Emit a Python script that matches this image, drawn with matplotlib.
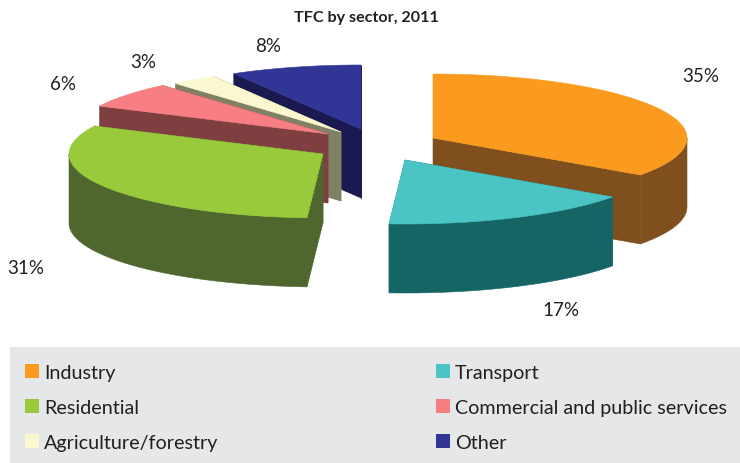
import numpy as np
import matplotlib
matplotlib.use('Agg')
import matplotlib.pyplot as plt

from matplotlib.patches import Polygon, Rectangle

plt.rcParams['font.family'] = ['Lato', 'DejaVu Sans']

# shares as measured from the slice angles, the printed labels are kept apart
sectors = ['Industry', 'Transport', 'Residential', 'Commercial and public services', 'Agriculture/forestry', 'Other']
shares = [34.8, 16.2, 31.2, 6.5, 2.95, 8.35]
pct_labels = ['35%', '17%', '31%', '6%', '3%', '8%']

top_colors = ['#FA9A1E', '#4AC4C4', '#99CA3C', '#F77E82', '#FBF8D0', '#313696']
side_colors = ['#7F4F1E', '#156565', '#4F672E', '#7F3F40', '#808065', '#1B1A50']

# apex of each exploded slice, in pixels
apex_x = [433, 405, 323, 328, 341, 361]
apex_y = [139, 161, 155, 135, 133, 130]
label_x = [701, 561, 26, 63, 143, 268]
label_y = [77, 311, 269, 85, 62, 46]
legend_x = [25, 436, 25, 436, 25, 436]
legend_y = [372, 372, 407, 407, 442, 442]

RX, RY, DEPTH = 254, 64, 69


def arc(cx, cy, a0, a1):
    # angles run clockwise from 12 o'clock
    t = np.radians(np.linspace(a0, a1, max(int(abs(a1 - a0)) * 2, 2)))
    return np.column_stack([cx + RX * np.sin(t), cy - RY * np.cos(t)])


def draw_slice(axes, cx, cy, a0, a1, top, side):
    down = np.array([0, DEPTH])
    apex = np.array([[cx, cy]])
    rim = arc(cx, cy, a0, a1)

    # both cut faces, the one facing away ends up behind the top anyway
    for edge in (rim[0], rim[-1]):
        face = np.array([apex[0], edge, edge + down, apex[0] + down])
        axes.add_patch(Polygon(face, facecolor=side, edgecolor=side, lw=0.4))

    # outer wall, only the front half of the ellipse shows
    lo, hi = max(a0, 90), min(a1, 270)
    if hi > lo:
        wall = arc(cx, cy, lo, hi)
        axes.add_patch(Polygon(np.vstack([wall, wall[::-1] + down]), facecolor=side, edgecolor=side, lw=0.4))

    axes.add_patch(Polygon(np.vstack([apex, rim]), facecolor=top, edgecolor=top, lw=0.4))


def main():
    figure = plt.figure(figsize=(7.4, 4.64), dpi=100)
    axes = figure.add_axes([0, 0, 1, 1])
    axes.set_xlim(0, 740)
    axes.set_ylim(464, 0)
    axes.axis('off')

    edges = np.cumsum([0] + shares) / sum(shares) * 360

    # painter's order, back slices first
    for i in [5, 4, 3, 2, 0, 1]:
        draw_slice(axes, apex_x[i], apex_y[i], edges[i], edges[i + 1], top_colors[i], side_colors[i])

    for i in range(len(sectors)):
        axes.text(label_x[i], label_y[i], pct_labels[i], ha='center', va='center', fontsize=13.5, color='#231F20')

    axes.text(366, 18, 'TFC by sector, 2011', ha='center', va='center', fontsize=11.6, fontweight='bold', color='#231F20')

    axes.add_patch(Rectangle((10, 348), 730, 116, facecolor='#E6E7E8', edgecolor='none'))
    for i in range(len(sectors)):
        axes.add_patch(Rectangle((legend_x[i], legend_y[i] - 7), 14, 14, facecolor=top_colors[i], edgecolor='none'))
        axes.text(legend_x[i] + 19, legend_y[i] + 2, sectors[i], ha='left', va='center', fontsize=14.2, color='#231F20')

    figure.savefig('out.png', dpi=100)


main()
